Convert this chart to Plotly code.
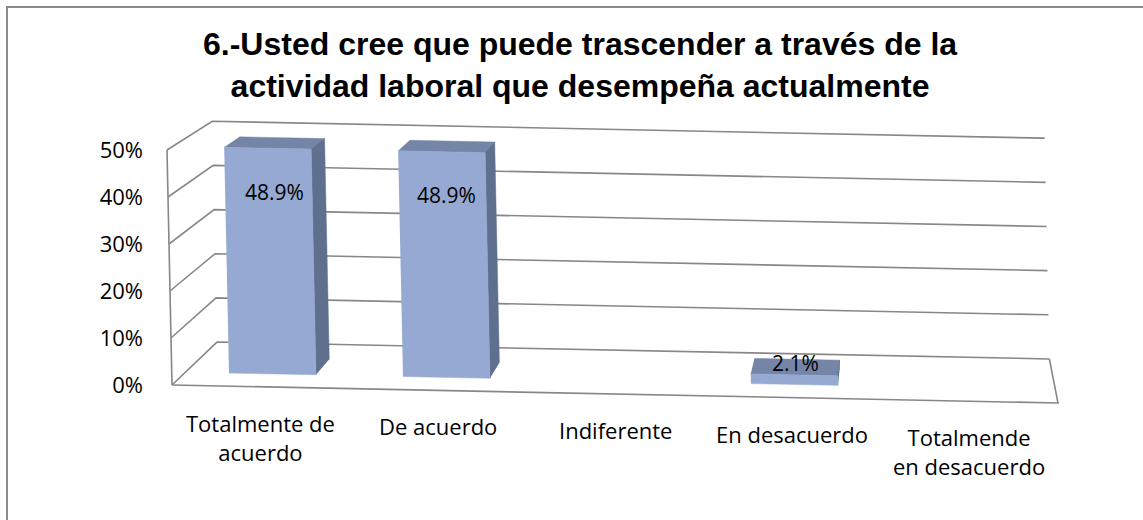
import plotly.graph_objects as go

# ---- data ----
categories = ["Totalmente de<br>acuerdo", "De acuerdo", "Indiferente", "En desacuerdo", "Totalmende<br>en desacuerdo"]
values = [48.9, 48.9, 0.0, 2.1, 0.0]
value_labels = ["48.9%", "48.9%", "0.0%", "2.1%", "0.0%"]
y_ticks = [0, 10, 20, 30, 40, 50]
y_tick_labels = ["0%", "10%", "20%", "30%", "40%", "50%"]
title_text = "6.-Usted cree que puede trascender a través de la<br>actividad laboral que desempeña actualmente"

# ---- perspective model (axis units: x = category, y = percent) ----
VPX, VPY = 4.193, 151.06     # vanishing point of depth lines
K = 0.0605                   # shrink of the back plane
SHEAR_X = 0.1 / 177.2
SHEAR_Y = 3.6 / 4.7
N = len(categories)
YMAX = 50
Z_BAR0, Z_BAR1 = 0.30, 0.66
BAR_HALF = 0.25


def proj(X, Y, Z):
    fx = X - SHEAR_X * Y
    fy = Y - SHEAR_Y * X
    s = 1 - K * Z
    return VPX + s * (fx - VPX), VPY + s * (fy - VPY)


def path(points):
    xs, ys = [], []
    for p in points:
        x, y = proj(*p)
        xs.append(x)
        ys.append(y)
    return xs, ys


fig = go.Figure()
GRID = dict(color="#878787", width=1.6)


def add_line(points):
    xs, ys = path(points)
    fig.add_trace(go.Scatter(x=xs, y=ys, mode="lines", line=GRID,
                             hoverinfo="skip", showlegend=False))


# back wall gridlines + left wall diagonals
for t in y_ticks:
    add_line([(0, t, 0), (0, t, 1), (N, t, 1)])
# left wall front edge
add_line([(0, 0, 0), (0, YMAX, 0)])
# floor front + right edges
add_line([(0, 0, 0), (N, 0, 0), (N, 0, 1)])

FRONT = "#95a9d2"
SIDE = "#5f6f8e"
TOP = "#7585a8"


def add_poly(points, color):
    xs, ys = path(points)
    fig.add_trace(go.Scatter(x=xs, y=ys, mode="lines", fill="toself",
                             fillcolor=color, line=dict(color=color, width=0.5),
                             hoverinfo="skip", showlegend=False))


for i, v in enumerate(values):
    if v <= 0:
        continue
    x0, x1 = i + 0.5 - BAR_HALF, i + 0.5 + BAR_HALF
    # top face
    add_poly([(x0, v, Z_BAR0), (x1, v, Z_BAR0), (x1, v, Z_BAR1), (x0, v, Z_BAR1)], TOP)
    # visible side face
    xs = x1 if x1 < VPX else x0
    add_poly([(xs, 0, Z_BAR0), (xs, v, Z_BAR0), (xs, v, Z_BAR1), (xs, 0, Z_BAR1)], SIDE)
    # front face
    add_poly([(x0, 0, Z_BAR0), (x1, 0, Z_BAR0), (x1, v, Z_BAR0), (x0, v, Z_BAR0)], FRONT)

annotations = []
# data labels
for i, v in enumerate(values):
    if v <= 0:
        continue
    lx, ly = proj(i + 0.5, v, (Z_BAR0 + Z_BAR1) / 2)
    annotations.append(dict(x=lx, y=ly, text=value_labels[i], showarrow=False,
                            xref="x", yref="y", yshift=-49 if v > 10 else 4,
                            font=dict(family="Open Sans", size=21, color="#000000")))
# category labels along the sloping front floor edge
for i, c in enumerate(categories):
    lx, ly = proj(i + 0.5, 0, 0)
    annotations.append(dict(x=lx, y=ly, text=c, showarrow=False, xref="x", yref="y",
                            yanchor="top", yshift=-19,
                            font=dict(family="Open Sans", size=22, color="#000000")))

W, H = 1143, 520
L, R, T, B = 150, 43, 100, 80
PX0, PXS = 172, 177.2
PY0, PYS = 385, 4.7
xr = [(L - PX0) / PXS, (W - R - PX0) / PXS]
yr = [(PY0 - (H - B)) / PYS, (PY0 - T) / PYS]

pw, ph = W - L - R, H - T - B


def paper_x(px):
    return (px - L) / pw


def paper_y(py):
    return (H - B - py) / ph


# title
annotations.append(dict(text=title_text, x=paper_x(580), y=paper_y(24), xref="paper", yref="paper",
                        xanchor="center", yanchor="top", showarrow=False,
                        font=dict(family="Liberation Sans", size=32, color="#000000", weight="bold")))

frame = dict(type="rect", xref="paper", yref="paper",
             x0=paper_x(7), x1=paper_x(W + 20),
             y0=paper_y(H + 20), y1=paper_y(7),
             line=dict(color="#8a8a8a", width=2), fillcolor="rgba(0,0,0,0)")

fig.update_layout(
    width=W, height=H,
    margin=dict(l=L, r=R, t=T, b=B, autoexpand=False),
    paper_bgcolor="white", plot_bgcolor="white",
    xaxis=dict(range=xr, visible=False, fixedrange=True),
    yaxis=dict(range=yr, tickvals=y_ticks, ticktext=y_tick_labels, showgrid=False,
               zeroline=False, showline=False, ticks="", ticklabelstandoff=6, automargin=False,
               tickfont=dict(family="Open Sans", size=22, color="#000000"), fixedrange=True),
    annotations=annotations,
    shapes=[frame],
    showlegend=False,
)

fig.write_html("out.html", config={"displayModeBar": False},
               post_script="document.body.style.margin='0';document.body.style.overflow='hidden';")
